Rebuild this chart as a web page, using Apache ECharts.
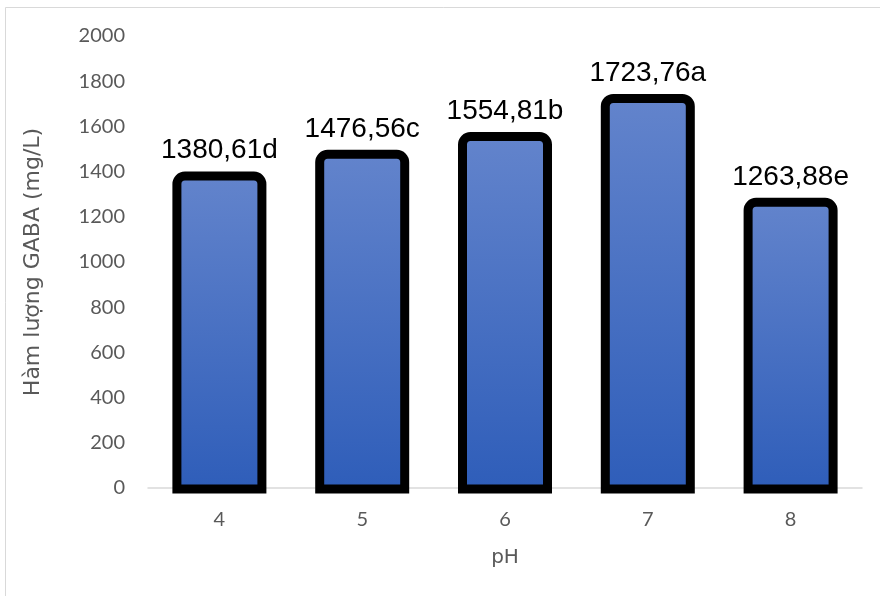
<!DOCTYPE html>
<html>
<head>
<meta charset="utf-8">
<script src="https://cdn.jsdelivr.net/npm/echarts@6/dist/echarts.min.js"></script>
<style>
  html,body{margin:0;padding:0;background:#fff;}
  #gaba{width:880px;height:596px;}
</style>
</head>
<body>
<div id="gaba"></div>
<script>
    // pH levels, GABA content (mg/L) and significance letters
    var phLevels = ['4', '5', '6', '7', '8'];
    var gabaValues = [1380.61, 1476.56, 1554.81, 1723.76, 1263.88];
    var sigLetters = ['d', 'c', 'b', 'a', 'e'];

    var chart = echarts.init(document.getElementById('gaba'));
    var grey = '#595959';

    function fmtLabel(v, i){
        return v.toFixed(2).replace('.', ',') + sigLetters[i];
    }

    // bar with thick black outline (stroke centred on the edge, like Excel)
    function renderBar(params, api){
        var idx = api.value(0);
        var top = api.coord([idx, api.value(1)]);
        var base = api.coord([idx, 0]);
        var w = 85;
        return {
            type: 'rect',
            shape: {x: top[0] - w / 2, y: top[1], width: w, height: base[1] - top[1] + 1, r: [8, 8, 0, 0]},
            style: {
                fill: new echarts.graphic.LinearGradient(0, 0, 0, 1, [
                    {offset: 0, color: '#6384cc'},
                    {offset: 1, color: '#2e5db9'}
                ]),
                stroke: '#000',
                lineWidth: 9
            },
            textContent: {
                style: {
                    text: fmtLabel(api.value(1), params.dataIndex),
                    fill: '#000',
                    fontSize: 28,
                    fontFamily: 'Liberation Sans'
                }
            },
            textConfig: {position: 'top', distance: 7}
        };
    }

    var option = {
        animation: false,
        backgroundColor: '#fff',
        graphic: [{
            type: 'rect',
            silent: true,
            shape: {x: 5.5, y: 7.5, width: 900, height: 620},
            style: {fill: 'none', stroke: '#d9d9d9', lineWidth: 1}
        }],
        grid: {
            left: 148,
            right: 18,
            top: 36,
            bottom: 108
        },
        xAxis: {
            type: 'category',
            data: phLevels,
            name: 'pH',
            nameLocation: 'middle',
            nameGap: 60,
            nameTextStyle: {color: grey, fontSize: 20, fontFamily: 'DejaVu Sans'},
            axisLine: {lineStyle: {color: '#d9d9d9', width: 1.5}},
            axisTick: {show: false},
            axisLabel: {color: grey, fontSize: 20, fontFamily: 'Lato', margin: 22}
        },
        yAxis: {
            type: 'value',
            min: 0,
            max: 2000,
            interval: 200,
            name: 'Hàm lượng GABA (mg/L)',
            nameLocation: 'middle',
            nameGap: 104,
            nameTextStyle: {color: grey, fontSize: 22, fontFamily: 'DejaVu Sans'},
            splitLine: {show: false},
            axisLine: {show: false},
            axisTick: {show: false},
            axisLabel: {
                color: grey, fontSize: 20, fontFamily: 'Lato', margin: 23,
                formatter: function (v) { return String(v); }
            }
        },
        series: [{
            type: 'custom',
            renderItem: renderBar,
            encode: {x: 0, y: 1},
            data: gabaValues.map(function (v, i) { return [i, v]; })
        }]
    };

    chart.setOption(option);
    window.addEventListener('resize', chart.resize);
</script>
</body>
</html>
